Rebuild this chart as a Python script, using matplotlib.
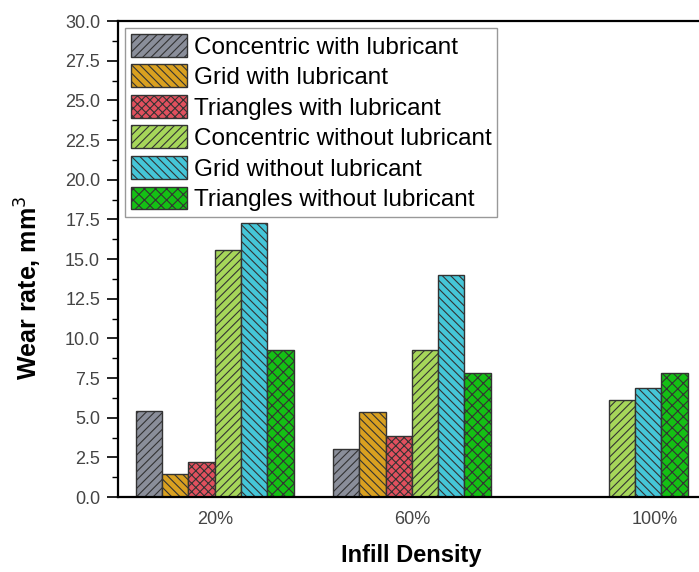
import numpy as np
import matplotlib.pyplot as plt
from matplotlib.ticker import MultipleLocator

plt.rcParams['font.family'] = ['Liberation Sans', 'DejaVu Sans']
plt.rcParams['hatch.linewidth'] = 0.8

densities = ["20%", "60%", "100%"]
series = ["Concentric with lubricant", "Grid with lubricant", "Triangles with lubricant",
          "Concentric without lubricant", "Grid without lubricant", "Triangles without lubricant"]
conc_lub = [5.45, 3.0, np.nan]
grid_lub = [1.45, 5.35, np.nan]
tri_lub = [2.2, 3.85, np.nan]
conc_dry = [15.6, 9.3, 6.15]
grid_dry = [17.25, 14.0, 6.9]
tri_dry = [9.3, 7.8, 7.8]
values = [conc_lub, grid_lub, tri_lub, conc_dry, grid_dry, tri_dry]

colors = ["#8a8e9a", "#d9a020", "#e0505e", "#a6d65a", "#45c6d8", "#14c014"]
hatches = ["////", "\\\\\\\\", "xxxx", "////", "\\\\\\\\", "xxx"]

fig = plt.figure(figsize=(6.99, 5.72), dpi=100)
ax = fig.add_axes([0.169, 0.131, 0.831, 0.832])

x = np.arange(len(densities))
w = 0.8 / len(series)
for i, (name, v) in enumerate(zip(series, values)):
    ax.bar(x - 0.4 + w * (i + 0.5), v, w, color=colors[i], edgecolor="#333333",
           linewidth=1.0, hatch=hatches[i], label=name)

ax.set_xlim(-0.49, 2.457)
ax.set_ylim(0, 30)
ax.set_xticks([0, 1, 2.23])
ax.set_xticklabels(densities, fontsize=13, color="#444444")
ax.tick_params(axis="x", length=0, pad=10)
ax.yaxis.set_major_locator(MultipleLocator(2.5))
ax.yaxis.set_minor_locator(MultipleLocator(1.25))
ax.yaxis.set_major_formatter(plt.FormatStrFormatter("%.1f"))
ax.tick_params(axis="y", which="major", direction="out", length=8, width=1.2,
               labelsize=13, labelcolor="#444444", pad=5)
ax.tick_params(axis="y", which="minor", direction="out", length=4, width=1.0)
for s in ["left", "bottom", "top"]:
    ax.spines[s].set_linewidth(1.6)
ax.spines["right"].set_visible(False)

ax.set_xlabel("Infill Density", fontsize=17, fontweight="bold")
ax.xaxis.set_label_coords(0.504, -0.098)
ax.set_ylabel("Wear rate, mm$^3$", fontsize=18, fontweight="bold")
ax.yaxis.set_label_coords(-0.128, 0.44)

leg = ax.legend(loc="upper left", bbox_to_anchor=(0.0, 1.0), fontsize=17.5,
                handlelength=2.3, handleheight=1.07, labelspacing=0.24,
                handletextpad=0.3, borderpad=0.22, borderaxespad=0.3,
                fancybox=False, framealpha=1, edgecolor="#999999")
leg.get_frame().set_linewidth(1.0)

fig.savefig("out.png", dpi=100)
